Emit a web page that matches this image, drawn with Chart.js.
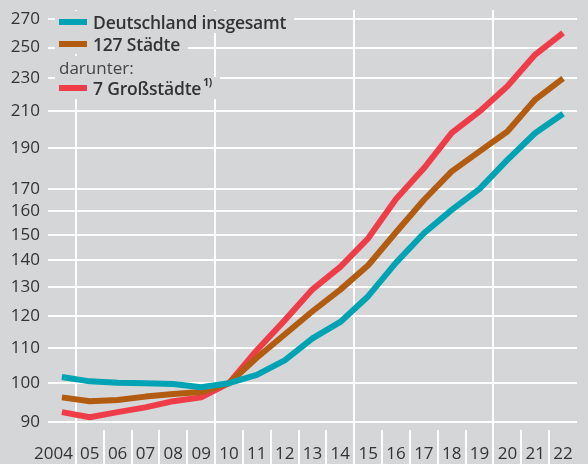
<!DOCTYPE html>
<html>
<head>
<meta charset="utf-8">
<script src="https://cdn.jsdelivr.net/npm/chart.js@4"></script>
<style>
  html, body { margin: 0; padding: 0; background: #d5d6d8; }
  #wrap { position: relative; width: 588px; height: 464px; background: #d5d6d8; overflow: hidden; }
  canvas { position: absolute; left: 0; top: 0; }
  #legend { position: absolute; left: 55px; top: 0; font-family: "Open Sans", sans-serif; color: #333; }
  .row { position: absolute; left: 0; background: #d5d6d8; white-space: nowrap; padding: 0 8px 0 4px; display: flex; align-items: center; }
  .sw { display: inline-block; width: 28px; height: 6px; margin-right: 6px; }
  .lab { font-size: 17.5px; font-weight: 600; letter-spacing: -0.2px; }
  .sub { font-size: 17px; font-weight: 400; color: #444; }
  sup { font-size: 10px; font-weight: 700; position: relative; top: -2px; margin-left: 2px; }
</style>
</head>
<body>
<div id="wrap">
  <canvas id="c" width="588" height="464"></canvas>
  <div id="legend"></div>
</div>
<script>
const categories = ["2004","05","06","07","08","09","10","11","12","13","14","15","16","17","18","19","20","21","22"];
const deutschland = [101.7, 100.5, 100.1, 100.0, 99.8, 98.9, 100, 102.3, 106.4, 113.0, 118.2, 126.8, 139.0, 150.6, 160.5, 170.0, 184.0, 198.0, 208.7];
const staedte127  = [96.2, 95.2, 95.5, 96.4, 97.1, 97.6, 100, 107.2, 114.2, 121.7, 129.1, 138.0, 151.0, 164.9, 178.3, 188.3, 198.8, 216.9, 229.8];
const grossstaedte = [92.4, 91.1, 92.4, 93.6, 95.2, 96.2, 100, 109.4, 118.7, 129.2, 137.4, 148.5, 165.3, 179.8, 198.0, 210.0, 224.9, 245.3, 260.3];
const yTicks = [90, 100, 110, 120, 130, 140, 150, 160, 170, 190, 210, 230, 250, 270];
const seriesNames = ["Deutschland insgesamt", "127 Städte", "7 Großstädte"];
const colors = ["#00a3b3", "#b25c11", "#ee3d48"];

const fullGridIdx = [1, 6, 11, 16];

new Chart(document.getElementById('c'), {
  type: 'line',
  data: {
    labels: categories,
    datasets: [
      { label: seriesNames[0], data: deutschland, borderColor: colors[0] },
      { label: seriesNames[1], data: staedte127, borderColor: colors[1] },
      { label: seriesNames[2], data: grossstaedte, borderColor: colors[2] }
    ].map(d => Object.assign(d, { borderWidth: 6, pointRadius: 0, tension: 0, fill: false, borderJoinStyle: 'round' }))
  },
  options: {
    responsive: false,
    animation: false,
    devicePixelRatio: 1,
    layout: { padding: { top: 10, right: 11, left: 0, bottom: 0 } },
    plugins: { legend: { display: false }, tooltip: { enabled: false } },
    scales: {
      x: {
        type: 'category',
        offset: true,
        border: { display: false },
        grid: {
          offset: true,
          lineWidth: 2,
          color: ctx => fullGridIdx.includes(ctx.index) ? '#ffffff' : 'rgba(0,0,0,0)',
          drawTicks: true,
          tickLength: 34,
          tickWidth: 2,
          tickColor: ctx => ctx.index >= 1 ? '#ffffff' : 'rgba(0,0,0,0)'
        },
        ticks: {
          autoSkip: false,
          maxRotation: 0,
          padding: -20,
          color: '#333',
          font: { family: 'Open Sans', size: 17 },
          callback: function (v, i) {
            const t = this.getLabelForValue(v);
            return i === 0 ? t + '\u2002\u2002' : t;
          }
        },
        afterFit: s => { s.height = 34; s.paddingLeft = 0; s.paddingRight = 0; }
      },
      y: {
        type: 'logarithmic',
        min: 88,
        max: 277,
        border: { display: false },
        grid: { color: '#ffffff', lineWidth: 2, drawTicks: false },
        afterBuildTicks: s => { s.ticks = yTicks.map(v => ({ value: v })); },
        ticks: {
          autoSkip: false,
          padding: 8,
          color: '#333',
          font: { family: 'Open Sans', size: 17 },
          callback: v => String(v)
        },
        afterFit: s => { s.width = 48; s.paddingTop = 0; s.paddingBottom = 0; }
      }
    }
  }
});

// Legend as HTML text
const legend = document.getElementById('legend');
const rows = [
  { top: 11, h: 22, html: `<span class="sw" style="background:${colors[0]}"></span><span class="lab">${seriesNames[0]}</span>` },
  { top: 33, h: 21, html: `<span class="sw" style="background:${colors[1]}"></span><span class="lab">${seriesNames[1]}</span>` },
  { top: 56, h: 22, html: `<span class="sub">darunter:</span>` },
  { top: 77, h: 22, html: `<span class="sw" style="background:${colors[2]}"></span><span class="lab">${seriesNames[2]}<sup>1)</sup></span>` }
];
rows.forEach(r => {
  const d = document.createElement('div');
  d.className = 'row';
  d.style.top = r.top + 'px';
  d.style.height = r.h + 'px';
  d.innerHTML = r.html;
  legend.appendChild(d);
});
</script>
</body>
</html>
